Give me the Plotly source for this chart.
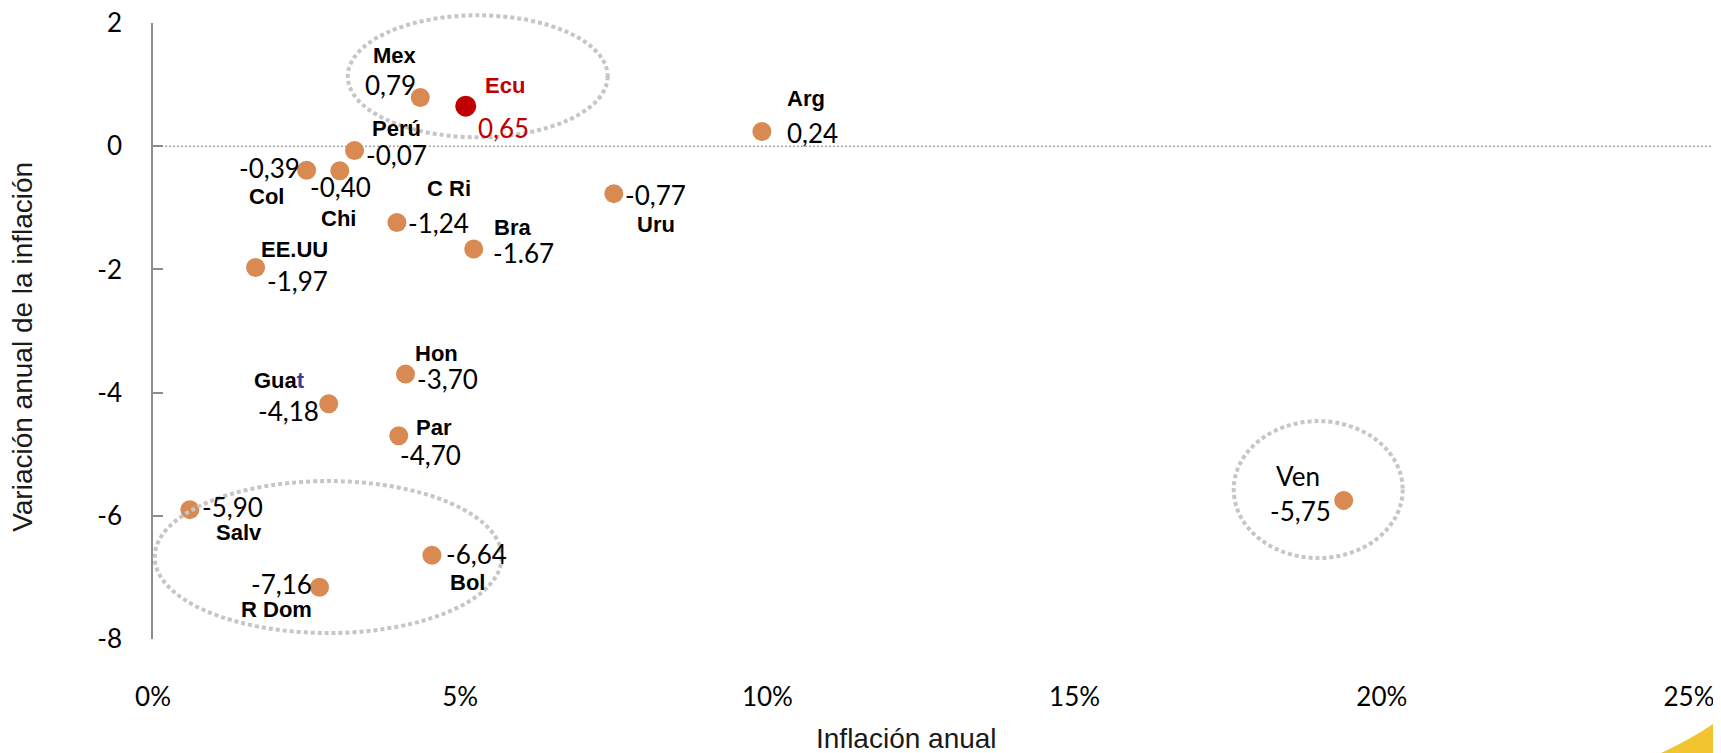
import plotly.graph_objects as go

# ---- data ----
countries = ["Mex", "Ecu", "Arg", "Perú", "Col", "Chi", "C Ri", "Bra", "Uru", "EE.UU",
             "Hon", "Guat", "Par", "Salv", "Bol", "R Dom", "Ven"]
inflation = [4.35, 5.09, 9.91, 3.28, 2.50, 3.04, 3.97, 5.22, 7.50, 1.67,
             4.11, 2.86, 4.00, 0.60, 4.54, 2.71, 19.38]
variation = [0.79, 0.65, 0.24, -0.07, -0.39, -0.40, -1.24, -1.67, -0.77, -1.97,
             -3.70, -4.18, -4.70, -5.90, -6.64, -7.16, -5.75]
value_labels = ["0,79", "0,65", "0,24", "-0,07", "-0,39", "-0,40", "-1,24", "-1.67", "-0,77", "-1,97",
                "-3,70", "-4,18", "-4,70", "-5,90", "-6,64", "-7,16", "-5,75"]
x_ticks = [0, 5, 10, 15, 20, 25]
x_tick_text = ["0%", "5%", "10%", "15%", "20%", "25%"]
y_ticks = [-8, -6, -4, -2, 0, 2]
y_tick_text = ["-8", "-6", "-4", "-2", "0", "2"]
x_title = "Inflación anual"
y_title = "Variación anual de la inflación"

# ---- label placement (pixel offsets: dx, dy downward) ----
name_offsets = [(-25, -42), (39, -21), (44, -33), (42, -22), (-40, 26), (-1, 48), (52, -34),
                (39, -22), (42, 31), (39, -18), (31, -21), (-49, -23), (35, -8), (49, 23),
                (36, 27), (-43, 22), (-46, -24)]
value_offsets = [(-30, -13), (38, 22), (51, 2), (42, 4), (-37, -2), (1, 16), (42, 0),
                 (50, 4), (42, 1), (42, 13), (42, 5), (-40, 7), (32, 19), (43, -3),
                 (45, -1), (-38, -3), (-43, 11)]

ORANGE = "#D88A52"
RED = "#C00000"
highlight = "Ecu"
plain_name = "Ven"

colors = [RED if c == highlight else ORANGE for c in countries]
sizes = [21 if c == highlight else 19 for c in countries]

fig = go.Figure()
fig.add_trace(go.Scatter(
    x=inflation, y=variation, mode="markers",
    marker=dict(color=colors, size=sizes, opacity=1, line=dict(width=0)),
    hovertext=countries, showlegend=False, cliponaxis=False,
))

NUM_FONT = "Lato, Carlito, Calibri, sans-serif"
NAME_FONT = "Liberation Sans, Arial, sans-serif"

annotations = []
for c, xv, yv, lab, (ndx, ndy), (vdx, vdy) in zip(countries, inflation, variation, value_labels,
                                                    name_offsets, value_offsets):
    col = RED if c == highlight else "#000000"
    name_text = c
    if c == "Guat":
        name_text = "Gua<span style='color:#3a3aa0'>t</span>"
    if c == plain_name:
        nfont = dict(family=NUM_FONT, size=26, color=col)
    else:
        name_text = "<b>" + name_text + "</b>"
        nfont = dict(family=NAME_FONT, size=22, color=col)
    annotations.append(dict(x=xv, y=yv, xref="x", yref="y", text=name_text, showarrow=False,
                            xanchor="center", yanchor="middle", xshift=ndx, yshift=-ndy, font=nfont))
    annotations.append(dict(x=xv, y=yv, xref="x", yref="y", text=lab, showarrow=False,
                            xanchor="center", yanchor="middle", xshift=vdx, yshift=-vdy,
                            font=dict(family=NUM_FONT, size=26, color=col)))

# axis titles
annotations.append(dict(x=0.4907, y=-0.1620, xref="paper", yref="paper", text=x_title,
                        showarrow=False, xanchor="center", yanchor="middle",
                        font=dict(family=NAME_FONT, size=28, color="#1a1a1a")))
annotations.append(dict(x=-0.0855, y=0.4738, xref="paper", yref="paper", text=y_title,
                        showarrow=False, xanchor="center", yanchor="middle", textangle=-90,
                        font=dict(family=NAME_FONT, size=28, color="#1a1a1a")))

ELL = dict(color="#C6C6C6", width=4, dash="4px,3px")
shapes = [
    # zero line
    dict(type="line", xref="paper", yref="y", x0=0, x1=1.0206, y0=0, y1=0,
         line=dict(color="#A6A6A6", width=1.5, dash="2px,2px"), layer="below"),
    # ellipses
    dict(type="circle", xref="paper", yref="paper", x0=0.1268, x1=0.2960, y0=0.8145, y1=1.0125, line=ELL),
    dict(type="circle", xref="paper", yref="paper", x0=0.0011, x1=0.2270, y0=0.0097, y1=0.2564, line=ELL),
    dict(type="circle", xref="paper", yref="paper", x0=0.7036, x1=0.8136, y0=0.1314, y1=0.3537, line=ELL),
    # decorative yellow corner swoosh
    dict(type="path", xref="paper", yref="paper",
         path="M 0.9810,-0.1860 Q 1.0069,-0.1558 1.0210,-0.1280 L 1.0210,-0.1860 Z",
         fillcolor="#F2C530", line=dict(width=0)),
]

# the page body adds an 8px margin, so the figure is 16px smaller than the window
fig.update_layout(
    width=1713, height=745,
    margin=dict(l=145, r=32, t=15, b=114, autoexpand=False),
    paper_bgcolor="white", plot_bgcolor="white",
    font=dict(family=NUM_FONT, size=26, color="#000000"),
    annotations=annotations, shapes=shapes,
    xaxis=dict(range=[0, 25], tickvals=x_ticks, ticktext=x_tick_text, showgrid=False, zeroline=False,
               showline=False, ticks="", ticklabelstandoff=40, automargin=False,
               ticklabeloverflow="allow",
               tickfont=dict(family=NUM_FONT, size=26, color="#000000")),
    yaxis=dict(range=[-8, 2], tickvals=y_ticks, ticktext=y_tick_text, showgrid=False, zeroline=False,
               showline=True, linecolor="#8C8C8C", linewidth=1.5,
               ticks="inside", ticklen=10, tickwidth=1.5, tickcolor="#8C8C8C",
               ticklabelstandoff=24, automargin=False, ticklabeloverflow="allow",
               tickfont=dict(family=NUM_FONT, size=26, color="#000000")),
)

fig.write_html("out.html")
